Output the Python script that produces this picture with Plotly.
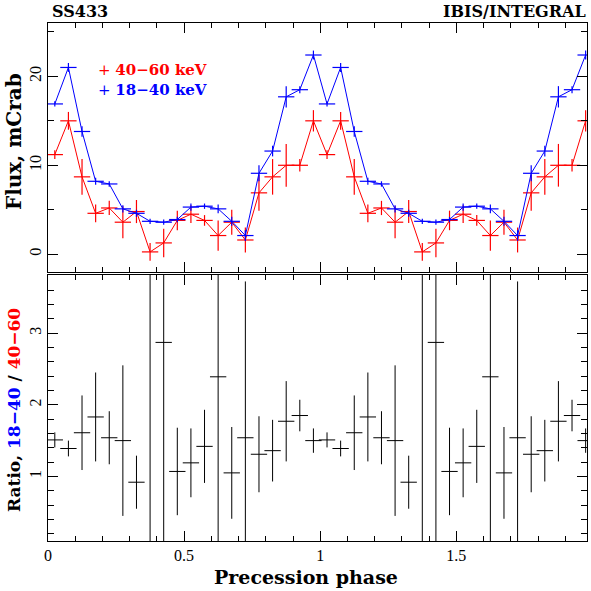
import plotly.graph_objects as go

# ---------------- data (one precession cycle, 20 phase bins) ----------------
phase = [0.025, 0.075, 0.125, 0.175, 0.225, 0.275, 0.325, 0.375, 0.425, 0.475,
         0.525, 0.575, 0.625, 0.675, 0.725, 0.775, 0.825, 0.875, 0.925, 0.975]
phase_halfwidth = 0.03

flux_18_40 = [16.9, 21.0, 13.8, 8.2, 7.9, 5.1, 4.6, 3.7, 3.6, 3.9,
              5.3, 5.4, 5.1, 3.7, 2.1, 9.1, 11.6, 17.7, 18.5, 22.4]
err_18_40 = [0.3, 0.5, 0.6, 0.4, 0.3, 0.4, 0.4, 0.3, 0.3, 0.3,
             0.4, 0.3, 0.5, 0.5, 0.6, 0.9, 0.6, 1.2, 0.4, 0.5]

flux_40_60 = [11.2, 15.0, 8.7, 4.6, 5.2, 3.6, 4.8, 0.26, 1.27, 3.8,
              4.5, 3.8, 2.1, 3.6, 1.6, 6.9, 8.7, 10.0, 10.0, 15.0]
err_40_60 = [0.5, 1.0, 2.0, 1.0, 0.8, 1.8, 1.3, 1.0, 1.6, 1.1,
             1.0, 0.6, 1.7, 1.4, 1.4, 2.0, 2.0, 2.4, 0.7, 1.2]

ratio = [1.51, 1.39, 1.61, 1.83, 1.54, 1.50, 0.92, 14.0, 2.87, 1.07,
         1.19, 1.42, 2.39, 1.05, 1.54, 1.31, 1.36, 1.77, 1.85, 1.50]
ratio_err = [0.105, 0.11, 0.52, 0.62, 0.37, 1.05, 0.37, 14.0, 3.5, 0.61,
             0.48, 0.51, 3.2, 0.64, 2.18, 0.53, 0.43, 0.56, 0.22, 0.17]

x_ticks = [0, 0.5, 1, 1.5]
x_tick_text = ["0", "0.5", "1", "1.5"]

# two cycles shown
xs = phase + [p + 1 for p in phase]
def twice(a):
    return list(a) + list(a)

RED = "#ff0000"
BLUE = "#0000ff"

fig = go.Figure()

def flux_trace(y, e, color):
    return go.Scatter(
        x=xs, y=twice(y), mode="lines",
        line=dict(color=color, width=1),
        error_y=dict(type="data", array=twice(e), color=color, thickness=1.2, width=0),
        error_x=dict(type="constant", value=phase_halfwidth, color=color, thickness=1.2, width=0),
        xaxis="x2", yaxis="y2", showlegend=False, hoverinfo="skip")

fig.add_trace(flux_trace(flux_40_60, err_40_60, RED))
fig.add_trace(flux_trace(flux_18_40, err_18_40, BLUE))

fig.add_trace(go.Scatter(
    x=xs, y=twice(ratio), mode="markers",
    marker=dict(size=0.1, color="black", opacity=0),
    error_y=dict(type="data", array=twice(ratio_err), color="black", thickness=1, width=0),
    error_x=dict(type="constant", value=phase_halfwidth, color="black", thickness=1, width=0),
    xaxis="x", yaxis="y", showlegend=False, hoverinfo="skip"))

# ---------------- layout ----------------
L, R, T, B = 48, 4, 23, 50
W = H = 591
PW = W - L - R
PH = H - T - B

def px_x(p):
    return (p - L) / PW

def px_y(q):
    return (H - B - q) / PH

TOP_DOM = [px_y(272), 1.0]
BOT_DOM = [0.0, px_y(275)]

tickfont = dict(family="Liberation Serif", size=16, color="black")
common_x = dict(range=[0, 1.98], showgrid=False, zeroline=False, showline=True,
                linecolor="black", linewidth=1, mirror="allticks",
                ticks="inside", ticklen=10, tickcolor="black", tickwidth=1,
                tickmode="array", tickvals=x_ticks, ticktext=x_tick_text,
                minor=dict(dtick=0.1, tick0=0, ticks="inside", ticklen=5,
                           tickcolor="black", tickwidth=1, showgrid=False),
                tickfont=tickfont)
common_y = dict(showgrid=False, zeroline=False, showline=True,
                linecolor="black", linewidth=1, mirror="allticks",
                ticks="inside", ticklen=10, tickcolor="black", tickwidth=1,
                tickangle=-90, tickfont=tickfont)

fig.update_layout(
    width=W, height=H,
    margin=dict(l=L, r=R, t=T, b=B, pad=0),
    paper_bgcolor="white", plot_bgcolor="white",
    xaxis=dict(**common_x, domain=[0, 1], anchor="y", showticklabels=True),
    xaxis2=dict(**common_x, domain=[0, 1], anchor="y2", matches="x", showticklabels=False),
    yaxis=dict(**common_y, domain=BOT_DOM, anchor="x", range=[0.1, 3.81],
               tickvals=[1, 2, 3],
               minor=dict(dtick=0.2, tick0=0, ticks="inside", ticklen=6,
                          tickcolor="black", tickwidth=1, showgrid=False)),
    yaxis2=dict(**common_y, domain=TOP_DOM, anchor="x2", range=[-2.0, 26.0],
                tickvals=[0, 10, 20],
                minor=dict(dtick=5, tick0=0, ticks="inside", ticklen=6,
                           tickcolor="black", tickwidth=1, showgrid=False)),
)

def bold(size):
    return dict(family="DejaVu Serif", size=size, color="black", weight="bold")

annotations = [
    dict(text="SS433", x=px_x(50), y=px_y(11), xanchor="left", yanchor="middle",
         font=bold(16)),
    dict(text="IBIS/INTEGRAL", x=px_x(588), y=px_y(11), xanchor="right", yanchor="middle",
         font=bold(16)),
    dict(text="Precession phase", x=px_x(306), y=px_y(577), xanchor="center", yanchor="middle",
         font=bold(19)),
    dict(text="Flux, mCrab", x=px_x(14), y=px_y(142), xanchor="center", yanchor="middle",
         textangle=-90, font=bold(20)),
    dict(text="Ratio, <span style='color:#0000ff'>18\u221240</span> / "
              "<span style='color:#ff0000'>40\u221260</span>",
         x=px_x(14), y=px_y(410), xanchor="center", yanchor="middle",
         textangle=-90, font=bold(17)),
    dict(text="<span style='color:#ff0000'>+ <b>40\u221260 keV</b></span><br>"
              "<span style='color:#0000ff'>+ <b>18\u221240 keV</b></span>",
         x=px_x(96), y=px_y(80), xanchor="left", yanchor="middle", align="left",
         font=dict(family="DejaVu Serif", size=15, color=RED)),
]
for a in annotations:
    a.update(xref="paper", yref="paper", showarrow=False)
fig.update_layout(annotations=annotations)

fig.write_html("out.html")
